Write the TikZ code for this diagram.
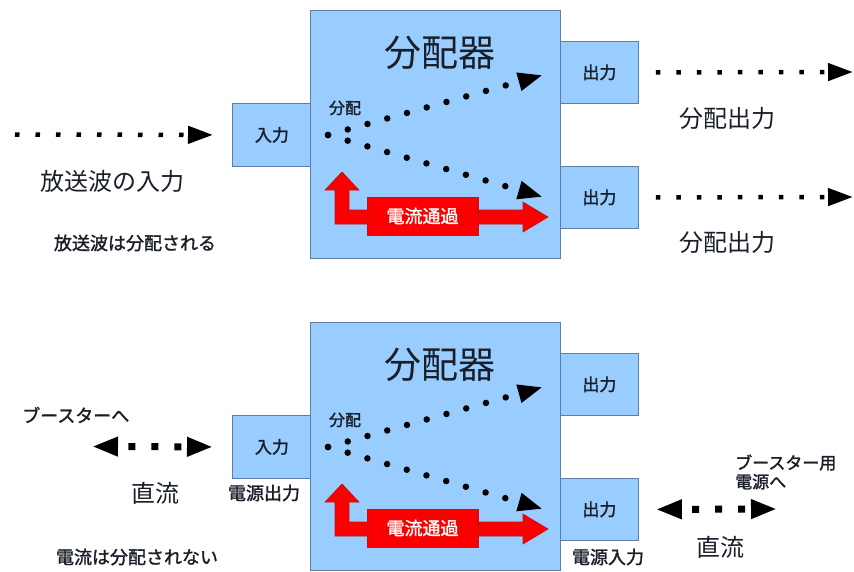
\documentclass[tikz,border=0pt]{standalone}
\usepackage{fontspec}
\setmainfont{Noto Sans CJK JP}
\newfontfamily\jpbold{Noto Sans CJK JP}[FakeBold=1.6]
\usetikzlibrary{arrows.meta}
\definecolor{boxblue}{RGB}{153,204,255}
\definecolor{boxedge}{RGB}{95,125,165}
\definecolor{txt}{RGB}{25,30,40}
\definecolor{redfill}{RGB}{250,0,0}
\definecolor{rededge}{RGB}{190,20,20}
\begin{document}
\begin{tikzpicture}[x=1pt,y=-1pt,
  blk/.style={draw=boxedge,line width=0.8pt,fill=boxblue,inner sep=0pt,anchor=north west,text=txt,font=\jpbold\fontsize{17}{17}\selectfont},
  ttl/.style={text=txt,inner sep=0pt,font=\fontsize{37}{37}\selectfont},
  big/.style={text=txt,inner sep=0pt,font=\fontsize{24}{24}\selectfont},
  sml/.style={text=txt,inner sep=0pt,font=\jpbold\fontsize{18}{19}\selectfont},
  lbl/.style={text=txt,inner sep=0pt,font=\jpbold\fontsize{16}{16}\selectfont},
  diag/.style={line width=6.5pt,dash pattern=on 0pt off 20.5pt,line cap=round,-{Triangle[length=25pt,width=17pt]}},
  hdot/.style={line width=4.5pt,dash pattern=on 4.5pt off 16pt,-{Triangle[length=25pt,width=17pt]}},
  dbl/.style={line width=7pt,dash pattern=on 7pt off 16pt,dash phase=11pt,{Triangle[length=26pt,width=18pt]}-{Triangle[length=26pt,width=18pt]}},
  redarrow/.style={fill=redfill,draw=rededge,line width=0.6pt},
  redlbl/.style={fill=redfill,draw=rededge,line width=0.6pt,text=white,inner sep=0pt,minimum width=111pt,minimum height=38pt,font=\jpbold\fontsize{18}{18}\selectfont}
]
\useasboundingbox (0,0) rectangle (854,571);
\fill[white] (0,0) rectangle (854,571);

\foreach \k/\dy in {a/0,b/312}{
\begin{scope}[shift={(0,\dy)}]
  \node[blk,minimum width=79pt,minimum height=63pt] (in\k) at (232,103) {入力};
  \node[blk,minimum width=250pt,minimum height=248pt] (main\k) at (310,10) {};
  \node[blk,minimum width=78pt,minimum height=62pt] (oa\k) at (560,41) {出力};
  \node[blk,minimum width=78pt,minimum height=62pt] (ob\k) at (560,166) {出力};
  \node[ttl] (t\k) at (440,53) {分配器};
  \node[lbl] (d\k) at (345,108) {分配};
  \coordinate (src\k) at (328,135);
  \coordinate (tipa\k) at (543,75);
  \coordinate (tipb\k) at (543,197);
  \draw[diag] (src\k) -- (tipa\k);
  \draw[diag] (src\k) -- (tipb\k);
  \draw[redarrow] (335,224) -- (335,190) -- (325,190) -- (342,172) -- (359,190) -- (349,190)
     -- (349,210) -- (523,210) -- (523,202) -- (548,217) -- (523,232) -- (523,224) -- cycle;
  \node[redlbl] (r\k) at (422.5,216) {電流通過};
\end{scope}
}

% top section
\coordinate (wavein) at (15,134.5);
\draw[hdot] (wavein) -- ([xshift=-19pt]ina.west);
\coordinate (outa1) at (853,72);
\coordinate (outa2) at (853,197);
\draw[hdot] ([xshift=17pt]oaa.east) -- (outa1);
\draw[hdot] ([xshift=17pt]oba.east) -- (outa2);
\node[big] (wavelbl) at (112,181) {放送波の入力};
\node[sml] (wavenote) at (135,243) {放送波は分配される};
\node[big] (outlbl1) at (727,118) {分配出力};
\node[big] (outlbl2) at (727,242) {分配出力};

% bottom section
\node[sml,anchor=west] (boostto) at (22,415) {ブースターへ};
\coordinate (boostL) at (92,446.5);
\draw[dbl] (boostL) -- ([xshift=-19pt]inb.west);
\node[big] (dcL) at (155,493) {直流};
\node[sml] (pwrout) at (264,493) {電源出力};
\node[sml] (nodiv) at (137,557) {電流は分配されない};
\node[sml] (pwrin) at (608,557) {電源入力};
\node[sml,anchor=west,align=left,font=\jpbold\fontsize{17}{19}\selectfont] (boostpwr) at (735,472) {ブースター用\\電源へ};
\coordinate (boostR) at (777,509);
\draw[dbl] ([xshift=17pt]obb.east) -- (boostR);
\node[big] (dcR) at (720,547) {直流};
\end{tikzpicture}
\end{document}
